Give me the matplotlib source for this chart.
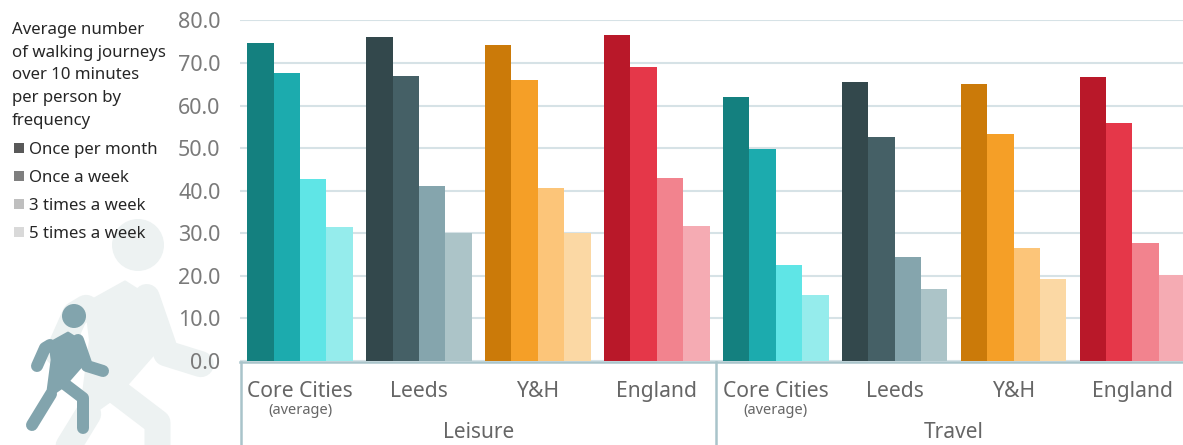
#!/usr/bin/env python3
import matplotlib

matplotlib.use('Agg')
import numpy as np
import matplotlib.pyplot as plt
from matplotlib.patches import Circle, Polygon, Rectangle
from matplotlib.transforms import blended_transform_factory

plt.rcParams['font.family'] = ['Noto Sans', 'DejaVu Sans']

places = ['Core Cities', 'Leeds', 'Y&H', 'England', 'Core Cities', 'Leeds', 'Y&H', 'England']
purposes = ['Leisure', 'Travel']
frequencies = ['Once per month', 'Once a week', '3 times a week', '5 times a week']
title_lines = ['Average number', 'of walking journeys', 'over 10 minutes', 'per person by', 'frequency']

once_month = [74.8, 76.2, 74.3, 76.5, 62.1, 65.6, 65.0, 66.7]
once_week = [67.6, 66.9, 66.0, 69.1, 49.8, 52.7, 53.4, 55.9]
three_week = [42.8, 41.2, 40.7, 43.1, 22.5, 24.5, 26.6, 27.7]
five_week = [31.6, 30.0, 30.0, 31.8, 15.6, 16.8, 19.2, 20.2]
series = [once_month, once_week, three_week, five_week]

teal = ['#14807f', '#1cabae', '#5fe5e6', '#95ecec']
slate = ['#33484c', '#456066', '#85a5ad', '#acc4c8']
orange = ['#cb7a09', '#f59f27', '#fcc579', '#fbd8a4']
red = ['#b91829', '#e53749', '#f2838e', '#f5abb3']
palette = [teal, slate, orange, red, teal, slate, orange, red]
legend_grey = ['#595959', '#7f7f7f', '#bfbfbf', '#d9d9d9']

W, H = 1183, 445
AXIS_BLUE = '#a9c4ca'
TEXT_GREY = '#666666'

fig = plt.figure(figsize=(W / 100, H / 100), dpi=100)

# background layer in pixel coords for the walking people
bg = fig.add_axes([0, 0, 1, 1], zorder=0)
bg.set_xlim(0, W)
bg.set_ylim(H, 0)
bg.axis('off')


def person(head, r, lw, color):
    # shapes are defined relative to the small figure's head, then scaled
    s = r / 12.0
    limbs = [
        [(-24, 29), (-29, 32), (-37, 50)],
        [(4, 24), (13, 50), (29, 55)],
        [(-23, 78), (-42, 109)],
        [(-12, 66), (9, 82), (9, 112)],
    ]
    for limb in limbs:
        xs = [head[0] + p[0] * s for p in limb]
        ys = [head[1] + p[1] * s for p in limb]
        bg.plot(xs, ys, color=color, lw=lw * 0.72, solid_capstyle='round', solid_joinstyle='round', zorder=2)
    torso = [(-24, 27), (-6, 17), (5, 24), (11, 46), (-10, 70), (-27, 82), (-22, 44)]
    pts = [(head[0] + p[0] * s, head[1] + p[1] * s) for p in torso]
    bg.add_patch(Polygon(pts, closed=True, facecolor=color, edgecolor=color, lw=2, joinstyle='round', zorder=2))
    bg.add_patch(Circle(head, r, color=color, lw=0, zorder=2))


person((138, 245), 26, 26, '#edf2f2')
person((74, 316), 12, 12, '#82a4ad')

# main chart
ax = fig.add_axes([240 / W, 1 - 361 / H, (W - 240) / W, (361 - 20.5) / H], zorder=1)
ax.patch.set_alpha(0)
x = np.arange(len(places))
bar_w = 26.4 / 118.9
for j, values in enumerate(series):
    colors = [p[j] for p in palette]
    ax.bar(x + (j - 1.5) * bar_w, values, bar_w, color=colors, zorder=3)

ax.set_xlim(-0.505, 7.425)
ax.set_ylim(0, 80)
ax.set_yticks(np.arange(0, 81, 10))
ax.set_yticklabels(['%.1f' % v for v in np.arange(0, 81, 10)], fontsize=15.5, color='#7a7a7a')
ax.tick_params(axis='y', length=0, pad=14)
ax.set_xticks([])
ax.grid(axis='y', color='#d6e2e6', lw=1.5, zorder=0)
ax.set_axisbelow(True)
for s in ax.spines.values():
    s.set_visible(False)

# two level category axis
tr = blended_transform_factory(ax.transData, fig.transFigure)
fy = lambda py: 1 - py / H
ax.plot([-0.505, 7.425], [fy(361.5)] * 2, transform=tr, color=AXIS_BLUE, lw=1.8, clip_on=False, zorder=4)
for sep in [-0.5, 3.5]:
    ax.plot([sep, sep], [fy(361.5), 0], transform=tr, color=AXIS_BLUE, lw=1.8, clip_on=False, zorder=4)
for i, name in enumerate(places):
    ax.text(i, fy(397), name, transform=tr, ha='center', va='baseline', fontsize=15.2, color=TEXT_GREY)
    if name == 'Core Cities':
        ax.text(i, fy(413.5), '(average)', transform=tr, ha='center', va='baseline', fontsize=10.5, color=TEXT_GREY)
for k, name in enumerate(purposes):
    ax.text(1.5 + 4 * k, fy(438), name, transform=tr, ha='center', va='baseline', fontsize=15, color=TEXT_GREY)

# legend, written out by hand because of the wrapped heading
for i, line in enumerate(title_lines):
    fig.text(12 / W, fy(34 + i * 22.7), line, ha='left', va='baseline', fontsize=12.1, color='#262626', zorder=5)
for i, name in enumerate(frequencies):
    py = 148 + i * 28.1
    fig.add_artist(Rectangle((14 / W, fy(py + 5)), 10 / W, 10 / H, transform=fig.transFigure,
                             facecolor=legend_grey[i], lw=0))
    fig.text(29 / W, fy(py + 6), name, ha='left', va='baseline', fontsize=12.1, color='#262626', zorder=5)

fig.savefig('out.png', dpi=100)
plt.close()
